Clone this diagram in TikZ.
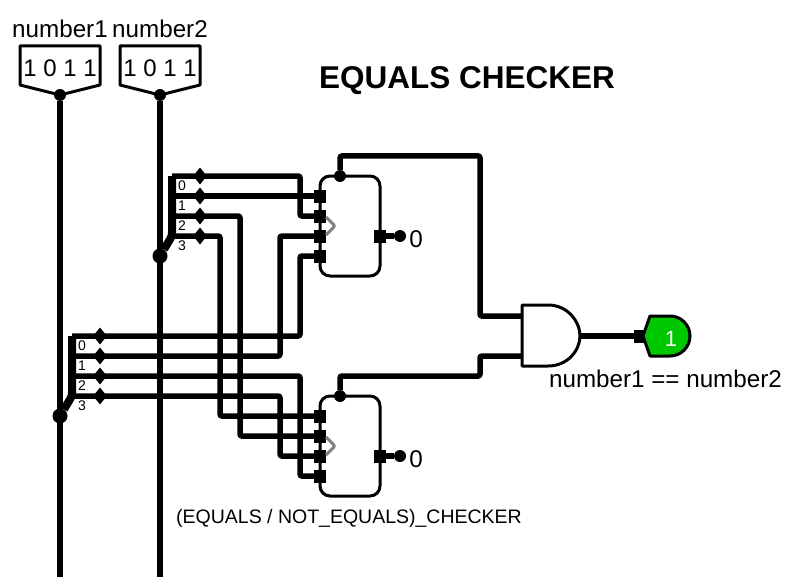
\documentclass[tikz,border=0pt]{standalone}
\usepackage{fontspec}
\setmainfont{Liberation Sans}
\usetikzlibrary{shapes.geometric,positioning}
\tikzset{
  wire/.style={line width=5.5pt,rounded corners=2pt},
  outline/.style={line width=3pt,line join=round},
  tap/.style={diamond,fill=black,inner sep=0pt,minimum width=14pt,minimum height=17pt},
  pinbox/.style={rectangle,fill=black,inner sep=0pt,minimum width=12pt,minimum height=13pt},
  dotsmall/.style={circle,fill=black,inner sep=0pt,minimum size=12pt},
  dotbig/.style={circle,fill=black,inner sep=0pt,minimum size=15pt},
  checker/.style={rectangle,draw,line width=3pt,rounded corners=10pt,minimum width=60pt,minimum height=100pt,inner sep=0pt},
  biglabel/.style={font=\fontsize{24.2}{27}\selectfont,inner sep=0pt},
  taplabel/.style={font=\fontsize{14}{16}\selectfont,inner sep=0pt}
}
\begin{document}
\begin{tikzpicture}[x=1pt,y=-1pt]
  \useasboundingbox (0,0) rectangle (794,588);

  % inputs
  \node[biglabel] (nameA) at (60,29)  {number1};
  \node[biglabel] (nameB) at (160,29) {number2};
  \node[biglabel,font=\fontsize{24}{26}\selectfont] (bitsA) at (60,68)  {1 0 1 1};
  \node[biglabel,font=\fontsize{24}{26}\selectfont] (bitsB) at (160,68) {1 0 1 1};
  \draw[outline] (20,46) -- (100,46) -- (100,85) -- (60,95) -- (20,85) -- cycle;
  \draw[outline] (120,46) -- (200,46) -- (200,85) -- (160,95) -- (120,85) -- cycle;
  \node[dotsmall] (pinA) at (60,95)  {};
  \node[dotsmall] (pinB) at (160,95) {};
  \coordinate (endA) at (60,577);
  \coordinate (endB) at (160,577);

  \node[font=\bfseries\fontsize{31.5}{36}\selectfont,inner sep=0pt] (title) at (467,81) {EQUALS CHECKER};

  % splitters
  \node[dotbig] (splitA) at (60,416)  {};
  \node[dotbig] (splitB) at (160,256) {};
  \coordinate (spa0) at (72,336);
  \coordinate (spa1) at (72,356);
  \coordinate (spa2) at (72,376);
  \coordinate (spa3) at (72,396);
  \coordinate (spb0) at (172,176);
  \coordinate (spb1) at (172,196);
  \coordinate (spb2) at (172,216);
  \coordinate (spb3) at (172,236);

  % checkers
  \node[checker] (chkU) at (350,226) {};
  \node[checker] (chkL) at (350,446) {};
  \node[pinbox] (u1) at (320,196) {};
  \node[pinbox] (u2) at (320,216) {};
  \node[pinbox] (u3) at (320,236) {};
  \node[pinbox] (u4) at (320,256) {};
  \node[pinbox] (l1) at (320,416) {};
  \node[pinbox] (l2) at (320,436) {};
  \node[pinbox] (l3) at (320,456) {};
  \node[pinbox] (l4) at (320,476) {};
  \node[dotsmall] (eqU) at (340,176) {};
  \node[dotsmall] (eqL) at (340,396) {};
  \node[pinbox] (neU) at (380,236) {};
  \node[pinbox] (neL) at (380,456) {};
  \node[dotsmall] (tipU) at (400,236) {};
  \node[dotsmall] (tipL) at (400,456) {};
  \node[biglabel] (valU) at (416,239) {0};
  \node[biglabel] (valL) at (416,459) {0};
  \draw[line width=3pt,gray,rounded corners=2pt] (326,217) -- (335,226) -- (326,235);
  \draw[line width=3pt,gray,rounded corners=2pt] (326,437) -- (335,446) -- (326,455);

  % buses
  \draw[line width=5.5pt] (pinA) -- (endA);
  \draw[line width=5.5pt] (pinB) -- (endB);
  \draw[line width=8pt,rounded corners=3pt] (spa0) -- (spa3) -- (splitA);
  \draw[line width=8pt,rounded corners=3pt] (spb0) -- (spb3) -- (splitB);

  % wires
  \draw[wire] (spb0) -- (300,176) -- (300,216) -- (u2);
  \draw[wire] (spb1) -- (u1);
  \draw[wire] (spb2) -- (240,216) -- (240,436) -- (l2);
  \draw[wire] (spb3) -- (220,236) -- (220,416) -- (l1);
  \draw[wire] (spa0) -- (300,336) -- (300,256) -- (u4);
  \draw[wire] (spa1) -- (280,356) -- (280,236) -- (u3);
  \draw[wire] (spa2) -- (300,376) -- (300,476) -- (l4);
  \draw[wire] (spa3) -- (280,396) -- (280,456) -- (l3);
  \draw[wire] (neU) -- (tipU);
  \draw[wire] (neL) -- (tipL);

  % taps
  \node[tap] (tb0) at (200,176) {};
  \node[tap] (tb1) at (200,196) {};
  \node[tap] (tb2) at (200,216) {};
  \node[tap] (tb3) at (200,236) {};
  \node[tap] (ta0) at (100,336) {};
  \node[tap] (ta1) at (100,356) {};
  \node[tap] (ta2) at (100,376) {};
  \node[tap] (ta3) at (100,396) {};
  \node[taplabel] (lb0) at (182,186) {0};
  \node[taplabel] (lb1) at (182,206) {1};
  \node[taplabel] (lb2) at (182,226) {2};
  \node[taplabel] (lb3) at (182,246) {3};
  \node[taplabel] (la0) at (82,346) {0};
  \node[taplabel] (la1) at (82,366) {1};
  \node[taplabel] (la2) at (82,386) {2};
  \node[taplabel] (la3) at (82,406) {3};

  % and gate and output
  \coordinate (andA) at (522,316);
  \coordinate (andB) at (522,356);
  \coordinate (andOut) at (580,336);
  \draw[outline] (522,305) -- (548,305) .. controls (568,305) and (580,322) .. (andOut)
    .. controls (580,350) and (568,366) .. (548,366) -- (522,366) -- cycle;
  \draw[wire] (eqU) -- (340,156) -- (480,156) -- (480,316) -- (andA);
  \draw[wire] (eqL) -- (340,376) -- (480,376) -- (480,356) -- (andB);
  \node[pinbox] (ledPin) at (640,336) {};
  \draw[wire] (andOut) -- (ledPin);
  \draw[outline,fill={rgb,255:red,0;green,200;blue,0}] (643,336) -- (650,316) -- (670,316)
    arc (-90:90:20) -- (650,356) -- cycle;
  \node[font=\fontsize{22}{24}\selectfont,text=white,inner sep=0pt] (ledVal) at (671,339) {1};

  \node[biglabel] (result) at (665.5,379) {number1 == number2};
  \node[font=\fontsize{19.5}{24}\selectfont,inner sep=0pt] (caption) at (349,518) {(EQUALS / NOT\_EQUALS)\_CHECKER};
\end{tikzpicture}
\end{document}
